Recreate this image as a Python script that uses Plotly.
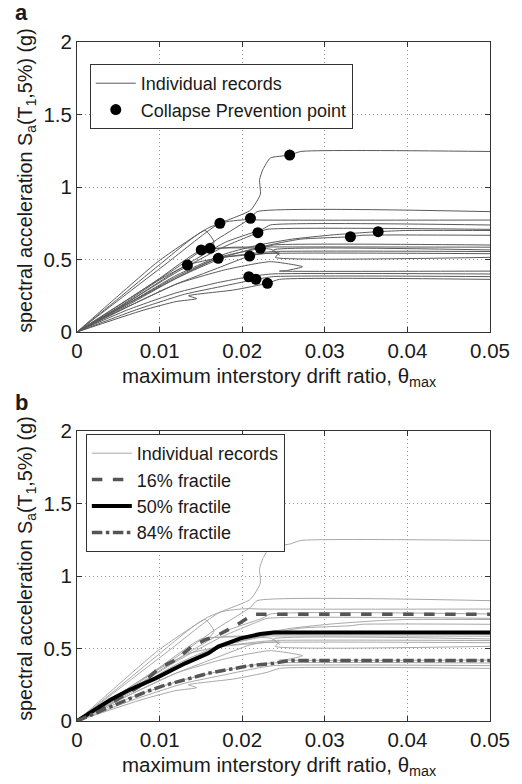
import plotly.graph_objects as go

# ---- IDA curves: max interstory drift ratio vs Sa(T1,5%) for each record ----
rec_x = [
    [0, 0.005, 0.0099, 0.0158, 0.021, 0.0222, 0.0221, 0.0225, 0.0234, 0.02575, 0.0271, 0.05],
    [0, 0.006, 0.012, 0.017, 0.0210, 0.0218, 0.05],
    [0, 0.0055, 0.011, 0.0173, 0.0205, 0.0222, 0.05],
    [0, 0.006, 0.012, 0.018, 0.0225, 0.0234, 0.05],
    [0, 0.006, 0.012, 0.0175, 0.0219, 0.023, 0.05],
    [0, 0.006, 0.012, 0.018, 0.022, 0.026, 0.031, 0.03646, 0.0398, 0.05],
    [0, 0.006, 0.012, 0.018, 0.0225, 0.027, 0.0331, 0.0345, 0.05],
    [0, 0.006, 0.012, 0.0175, 0.0222, 0.0238, 0.05],
    [0, 0.005, 0.0099, 0.0155, 0.0166, 0.0161, 0.019, 0.05],
    [0, 0.005, 0.01, 0.01504, 0.019, 0.0235, 0.0245, 0.0238, 0.05],
    [0, 0.005, 0.01, 0.01337, 0.017, 0.021, 0.0238, 0.05],
    [0, 0.006, 0.012, 0.017, 0.0209, 0.0225, 0.05],
    [0, 0.006, 0.012, 0.0171, 0.0215, 0.0245, 0.024, 0.05],
    [0, 0.006, 0.012, 0.018, 0.0234, 0.0273, 0.0255, 0.0245, 0.05],
    [0, 0.006, 0.012, 0.017, 0.0208, 0.0235, 0.05],
    [0, 0.007, 0.013, 0.018, 0.02167, 0.0238, 0.05],
    [0, 0.008, 0.012, 0.0145, 0.0135, 0.019, 0.02305, 0.0245, 0.05],
]
rec_y = [
    [0, 0.25, 0.49, 0.715, 0.84, 0.95, 1.05, 1.12, 1.2, 1.22, 1.245, 1.245],
    [0, 0.22, 0.44, 0.64, 0.784, 0.83, 0.83],
    [0, 0.24, 0.48, 0.75, 0.775, 0.772, 0.772],
    [0, 0.2, 0.42, 0.62, 0.71, 0.738, 0.738],
    [0, 0.2, 0.41, 0.58, 0.685, 0.708, 0.708],
    [0, 0.19, 0.39, 0.54, 0.6, 0.64, 0.67, 0.692, 0.70, 0.70],
    [0, 0.18, 0.37, 0.52, 0.59, 0.64, 0.657, 0.667, 0.667],
    [0, 0.19, 0.38, 0.52, 0.577, 0.60, 0.60],
    [0, 0.23, 0.46, 0.70, 0.62, 0.577, 0.585, 0.585],
    [0, 0.18, 0.37, 0.566, 0.58, 0.57, 0.53, 0.566, 0.566],
    [0, 0.17, 0.36, 0.462, 0.51, 0.54, 0.555, 0.555],
    [0, 0.17, 0.33, 0.44, 0.524, 0.54, 0.54],
    [0, 0.19, 0.37, 0.508, 0.535, 0.545, 0.515, 0.515],
    [0, 0.17, 0.33, 0.43, 0.485, 0.45, 0.425, 0.42, 0.42],
    [0, 0.15, 0.27, 0.34, 0.381, 0.40, 0.40],
    [0, 0.15, 0.26, 0.32, 0.363, 0.382, 0.382],
    [0, 0.15, 0.21, 0.23, 0.25, 0.29, 0.336, 0.363, 0.363],
]

# Collapse Prevention points
cp_x = [0.02575, 0.0210, 0.0173, 0.0219, 0.03646, 0.0331, 0.0222, 0.0161,
        0.01504, 0.01337, 0.0209, 0.0171, 0.0208, 0.02167, 0.02305]
cp_y = [1.22, 0.784, 0.75, 0.685, 0.692, 0.657, 0.577, 0.577,
        0.566, 0.462, 0.524, 0.508, 0.381, 0.363, 0.336]

# fractile IDA curves
f16_x = [0, 0.004, 0.0075, 0.0099, 0.0119, 0.0139, 0.0155, 0.0171, 0.019, 0.0206, 0.0214, 0.05]
f16_y = [0, 0.12, 0.237, 0.363, 0.42, 0.513, 0.559, 0.593, 0.651, 0.71, 0.736, 0.736]
f50_x = [0, 0.004, 0.0063, 0.0095, 0.0131, 0.0159, 0.0171, 0.0198, 0.0222, 0.0238, 0.05]
f50_y = [0, 0.145, 0.214, 0.294, 0.398, 0.467, 0.513, 0.570, 0.60, 0.611, 0.611]
f84_x = [0, 0.004, 0.0079, 0.0103, 0.0159, 0.0206, 0.0238, 0.0258, 0.05]
f84_y = [0, 0.10, 0.191, 0.241, 0.329, 0.379, 0.398, 0.418, 0.418]

x_tickvals = [0, 0.01, 0.02, 0.03, 0.04, 0.05]
x_ticktext = ["0", "0.01", "0.02", "0.03", "0.04", "0.05"]
y_tickvals = [0, 0.5, 1, 1.5, 2]
y_ticktext = ["0", "0.5", "1", "1.5", "2"]

FONT = "Liberation Sans, Arial, sans-serif"
W, H = 522, 784
ML, MR, MT, MB = 77, 25, 42, 63
PH = H - MT - MB  # plotting height in px
PW = W - ML - MR


def py(px_y):
    """pixel row -> paper y"""
    return (H - MB - px_y) / PH


def pxx(px_x):
    """pixel column -> paper x"""
    return (px_x - ML) / PW


fig = go.Figure()

# panel a: individual records + CP points
for i, (xs, ys) in enumerate(zip(rec_x, rec_y)):
    fig.add_trace(go.Scatter(
        x=xs, y=ys, mode="lines", xaxis="x", yaxis="y",
        line=dict(color="#5a5a5a", width=1, shape="spline", smoothing=0.5),
        name="Individual records", showlegend=(i == 0), legend="legend",
        hoverinfo="skip"))
fig.add_trace(go.Scatter(
    x=cp_x, y=cp_y, mode="markers", xaxis="x", yaxis="y",
    marker=dict(color="black", size=11),
    name="Collapse Prevention point", legend="legend"))

# panel b: records + fractiles
for i, (xs, ys) in enumerate(zip(rec_x, rec_y)):
    fig.add_trace(go.Scatter(
        x=xs, y=ys, mode="lines", xaxis="x2", yaxis="y2",
        line=dict(color="#a8a8a8", width=1, shape="spline", smoothing=0.5),
        name="Individual records", showlegend=(i == 0), legend="legend2",
        hoverinfo="skip"))
fig.add_trace(go.Scatter(
    x=f16_x, y=f16_y, mode="lines", xaxis="x2", yaxis="y2",
    line=dict(color="#555555", width=3.5, dash="dash"),
    name="16% fractile", legend="legend2"))
fig.add_trace(go.Scatter(
    x=f50_x, y=f50_y, mode="lines", xaxis="x2", yaxis="y2",
    line=dict(color="black", width=4),
    name="50% fractile", legend="legend2"))
fig.add_trace(go.Scatter(
    x=f84_x, y=f84_y, mode="lines", xaxis="x2", yaxis="y2",
    line=dict(color="#555555", width=3.5, dash="dashdot"),
    name="84% fractile", legend="legend2"))

axis_common = dict(
    showline=True, linecolor="#333333", linewidth=1, mirror="ticks",
    ticks="inside", ticklen=5, tickcolor="#333333",
    showgrid=True, gridcolor="#9a9a9a", gridwidth=1, griddash="1px,3px",
    zeroline=False, tickfont=dict(family=FONT, size=20.5, color="#1a1a1a"),
)

dom_a = [1 - 290 / PH, 1]
dom_b = [0, 290 / PH]

fig.update_layout(
    width=W, height=H,
    margin=dict(l=ML, r=MR, t=MT, b=MB),
    paper_bgcolor="white", plot_bgcolor="white",
    font=dict(family=FONT, color="#1a1a1a"),
    xaxis=dict(axis_common, domain=[0, 1], anchor="y", range=[0, 0.05],
               tickvals=x_tickvals, ticktext=x_ticktext),
    yaxis=dict(axis_common, domain=dom_a, anchor="x", range=[0, 2],
               tickvals=y_tickvals, ticktext=y_ticktext),
    xaxis2=dict(axis_common, domain=[0, 1], anchor="y2", range=[0, 0.05],
                tickvals=x_tickvals, ticktext=x_ticktext),
    yaxis2=dict(axis_common, domain=dom_b, anchor="x2", range=[0, 2],
                tickvals=y_tickvals, ticktext=y_ticktext),
    legend=dict(x=pxx(90), y=py(64), xanchor="left", yanchor="top",
                bgcolor="white", bordercolor="#333333", borderwidth=1,
                font=dict(family=FONT, size=18, color="#1a1a1a"),
                itemwidth=40, tracegroupgap=0),
    legend2=dict(x=pxx(86), y=py(434), xanchor="left", yanchor="top",
                 bgcolor="white", bordercolor="#333333", borderwidth=1,
                 font=dict(family=FONT, size=18, color="#1a1a1a"),
                 itemwidth=40, tracegroupgap=0),
    showlegend=True,
)

ytitle = "spectral acceleration S<sub>a</sub>(T<sub>1</sub>,5%) (g)"
xtitle = "maximum interstory drift ratio, \u03b8<sub>max</sub>"
ann = [
    dict(text="<b>a</b>", x=pxx(12), y=py(13), xanchor="left", yanchor="middle",
         font=dict(size=22)),
    dict(text="<b>b</b>", x=pxx(12), y=py(402), xanchor="left", yanchor="middle",
         font=dict(size=22)),
    dict(text=ytitle, textangle=-90, x=pxx(25), y=py(180),
         xanchor="center", yanchor="middle", font=dict(size=19.8)),
    dict(text=ytitle, textangle=-90, x=pxx(25), y=py(568),
         xanchor="center", yanchor="middle", font=dict(size=19.8)),
    dict(text=xtitle, x=pxx(283), y=py(377), xanchor="center", yanchor="middle",
         font=dict(size=20.5)),
    dict(text=xtitle, x=pxx(283), y=py(766), xanchor="center", yanchor="middle",
         font=dict(size=20.5)),
]
for a in ann:
    a.update(xref="paper", yref="paper", showarrow=False)
fig.update_layout(annotations=ann)

fig.write_html("out.html")
